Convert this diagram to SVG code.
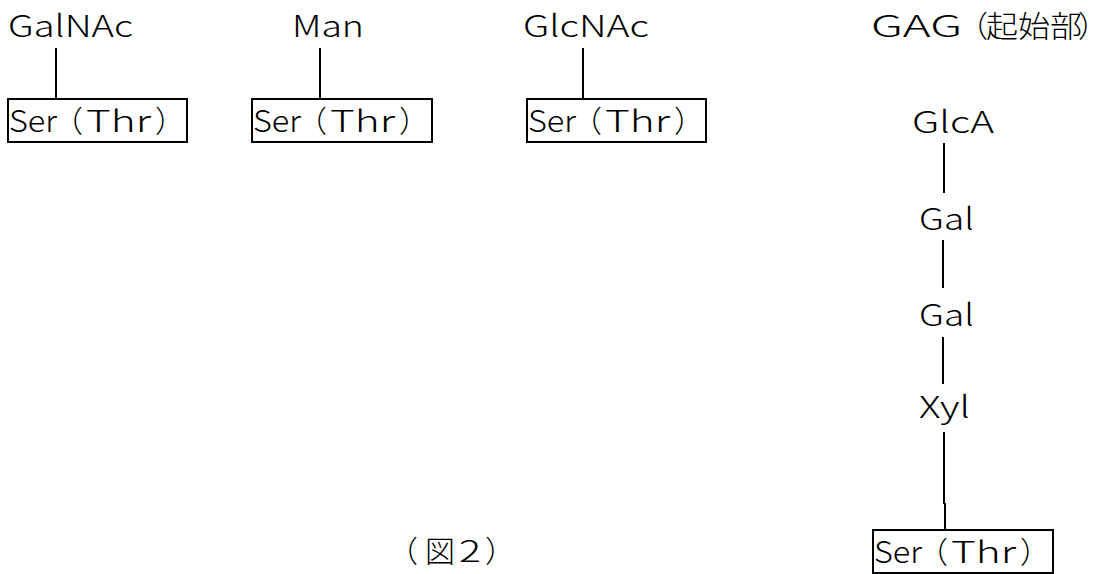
<svg xmlns="http://www.w3.org/2000/svg" width="1095" height="574" viewBox="0 0 1095 574">
<style>
text{font-family:"Noto Sans CJK JP","Noto Sans",sans-serif;font-size:30px;font-weight:300;fill:#000}
.box{fill:none;stroke:#000;stroke-width:2}
.ln{stroke:#000;stroke-width:2;fill:none}
</style>
<rect width="1095" height="574" fill="#fff"/>
<g id="connectors">
<line class="ln" x1="56" y1="48" x2="56" y2="98"/>
<line class="ln" x1="320" y1="48" x2="320" y2="98"/>
<line class="ln" x1="583" y1="48" x2="583" y2="98"/>
<line class="ln" x1="944" y1="143" x2="944" y2="193"/>
<line class="ln" x1="943" y1="240" x2="943" y2="288"/>
<line class="ln" x1="943" y1="337" x2="943" y2="384"/>
<line class="ln" x1="944" y1="432" x2="944" y2="504"/>
<line class="ln" x1="945" y1="503" x2="945" y2="529"/>
</g>
<g id="n-galnac"><text x="8" y="37" textLength="125" lengthAdjust="spacingAndGlyphs">GalNAc</text></g>
<g id="n-ser1"><rect class="box" x="8" y="99" width="179" height="43"/><text y="132"><tspan x="9" textLength="48" lengthAdjust="spacingAndGlyphs">Ser</tspan><tspan x="53">（</tspan><tspan x="86" textLength="65" lengthAdjust="spacingAndGlyphs">Thr</tspan><tspan x="155">）</tspan></text></g>
<g id="n-man"><text x="292" y="37" textLength="72" lengthAdjust="spacingAndGlyphs">Man</text></g>
<g id="n-ser2"><rect class="box" x="252" y="99" width="180" height="43"/><text y="132"><tspan x="253" textLength="48" lengthAdjust="spacingAndGlyphs">Ser</tspan><tspan x="297">（</tspan><tspan x="330" textLength="65" lengthAdjust="spacingAndGlyphs">Thr</tspan><tspan x="399">）</tspan></text></g>
<g id="n-glcnac"><text x="523" y="37" textLength="126" lengthAdjust="spacingAndGlyphs">GlcNAc</text></g>
<g id="n-ser3"><rect class="box" x="527" y="99" width="179" height="43"/><text y="132"><tspan x="528" textLength="48" lengthAdjust="spacingAndGlyphs">Ser</tspan><tspan x="572">（</tspan><tspan x="605" textLength="65" lengthAdjust="spacingAndGlyphs">Thr</tspan><tspan x="674">）</tspan></text></g>
<g id="n-gag"><text y="37"><tspan x="871" textLength="91" lengthAdjust="spacingAndGlyphs">GAG</tspan><tspan x="958">（</tspan><tspan x="986" textLength="96" lengthAdjust="spacingAndGlyphs">起始部</tspan><tspan x="1078" letter-spacing="-16">）</tspan></text></g>
<g id="n-glca"><text x="912" y="133" textLength="82" lengthAdjust="spacingAndGlyphs">GlcA</text></g>
<g id="n-gal1"><text x="919" y="230" textLength="55" lengthAdjust="spacingAndGlyphs">Gal</text></g>
<g id="n-gal2"><text x="919" y="326" textLength="55" lengthAdjust="spacingAndGlyphs">Gal</text></g>
<g id="n-xyl"><text x="919" y="418" textLength="51" lengthAdjust="spacingAndGlyphs">Xyl</text></g>
<g id="n-ser4"><rect class="box" x="873" y="530" width="180" height="43"/><text y="563"><tspan x="874" textLength="48" lengthAdjust="spacingAndGlyphs">Ser</tspan><tspan x="918">（</tspan><tspan x="951" textLength="65" lengthAdjust="spacingAndGlyphs">Thr</tspan><tspan x="1020">）</tspan></text></g>
<g id="caption"><text y="562"><tspan x="388">（</tspan><tspan x="425">図</tspan><tspan x="459" textLength="22" lengthAdjust="spacingAndGlyphs">2</tspan><tspan x="485">）</tspan></text></g>
</svg>
